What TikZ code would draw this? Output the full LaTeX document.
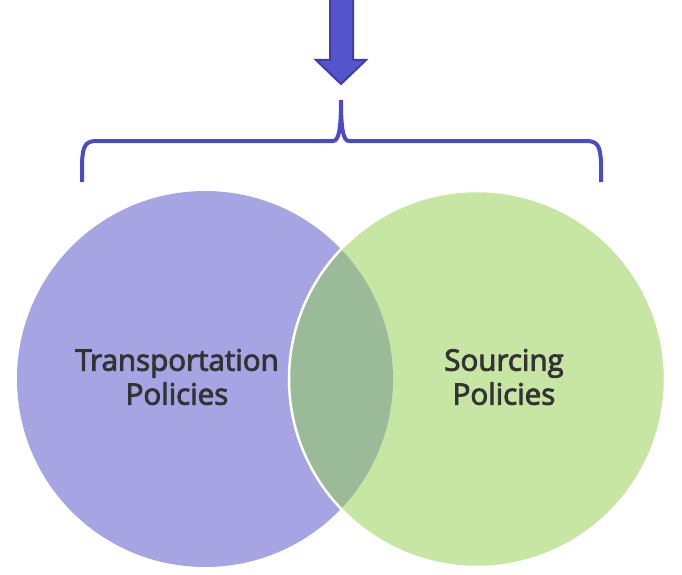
\documentclass[tikz,border=0pt]{standalone}
\usepackage{fontspec}
\setmainfont{Open Sans}
\newfontfamily\lblfont{Open Sans}[FakeBold=3]
\definecolor{lpurple}{HTML}{A6A4E2}
\definecolor{lgreen}{HTML}{C7E6A4}
\definecolor{dgreen}{HTML}{9BBB98}
\definecolor{arrowfill}{HTML}{5454CC}
\definecolor{arrowline}{HTML}{3E3EA6}
\definecolor{bracecol}{HTML}{4B4BC6}
\definecolor{txt}{HTML}{333333}
\begin{document}
\begin{tikzpicture}[x=1pt,y=-1pt,
  lbl/.style={text=txt,align=center,font=\lblfont\fontsize{29.5}{34}\selectfont},
  venn/.style={circle,minimum size=376pt,inner sep=0pt}]
\useasboundingbox (0,0) rectangle (682,575);
% circles
\node[venn,fill=lpurple] (L) at (205,379) {};
\node[venn,fill=lgreen] (R) at (477,379) {};
\begin{scope}
  \clip (205,379) circle (188);
  \fill[dgreen] (477,379) circle (188);
\end{scope}
\draw[white,line width=2.5pt] (477,379) circle (188);
% texts
\node[lbl] (tl) at (177,377) {Transportation\\Policies};
\node[lbl] (tr) at (504,377) {Sourcing\\Policies};
% arrow
\draw[fill=arrowfill,draw=arrowline,line width=2pt,line join=miter]
  (330,-2) -- (353,-2) -- (353,60) -- (366,60) -- (341,84) -- (316,60) -- (330,60) -- cycle;
\coordinate (tip) at (341,84);
% brace
\coordinate (bl) at (82,182);
\coordinate (br) at (601,182);
\coordinate (bc) at (341,100);
\draw[bracecol,line width=4pt]
  (bl) -- (82,162) .. controls (83,146) and (85,141) .. (97,141)
  -- (333,141) .. controls (339,141) and (341,128) .. (bc)
  .. controls (341,128) and (343,141) .. (349,141)
  -- (586,141) .. controls (598,141) and (600,146) .. (601,162) -- (br);
\end{tikzpicture}
\end{document}
